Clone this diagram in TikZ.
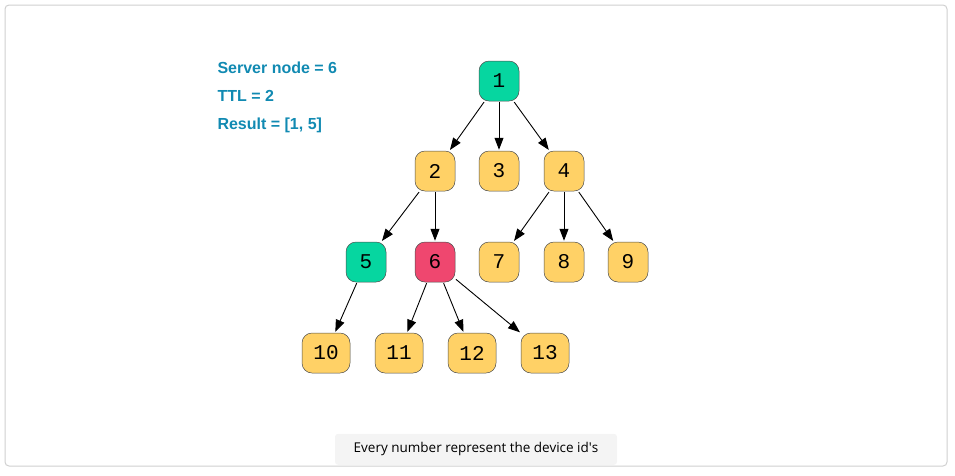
\documentclass[tikz,border=0pt]{standalone}
\usepackage{fontspec}
\setmainfont{Open Sans}
\newfontfamily\monofont{Liberation Mono}
\newfontfamily\labelfont{Liberation Sans}
\usetikzlibrary{arrows.meta}
\definecolor{nodeyellow}{HTML}{FFD166}
\definecolor{nodegreen}{HTML}{06D6A0}
\definecolor{nodered}{HTML}{EF476F}
\definecolor{infoblue}{HTML}{118AB2}
\definecolor{capgray}{HTML}{F4F4F4}
\definecolor{framegray}{HTML}{D0D0D0}
\tikzset{
    device/.style={draw=black!70,line width=0.5pt,rounded corners=10pt,fill=nodeyellow,
        minimum width=40pt,minimum height=40pt,inner sep=0pt,font=\monofont\fontsize{21}{23}\selectfont},
    devicewide/.style={device,minimum width=48pt},
    server/.style={device,fill=nodegreen},
    origin/.style={device,fill=nodered},
    link/.style={-{Triangle[length=12pt,width=9pt]},line width=0.9pt,shorten >=1pt,shorten <=1pt},
    infolabel/.style={anchor=west,text=infoblue,font=\labelfont\bfseries\fontsize{16}{18}\selectfont},
    caption/.style={fill=capgray,rounded corners=3pt,minimum width=282pt,minimum height=31pt,
        font=\fontsize{13.5}{15}\selectfont}
}
\begin{document}
\begin{tikzpicture}[x=1pt,y=-1pt]
    \useasboundingbox (0,0) rectangle (955,475);

    % outer frame
    \draw[framegray,line width=1pt,rounded corners=4pt] (5,5) rectangle (947,466);

    % info text
    \node[infolabel] (server) at (214,68) {Server node = 6};
    \node[infolabel] (ttl) at (214,96) {TTL = 2};
    \node[infolabel] (result) at (214,125) {Result = [1, 5]};

    % device tree
    \node[server] (d1) at (499,81) {1};
    \foreach \i/\x in {2/435,3/499,4/564} {
        \node[device] (d\i) at (\x,171) {\i};
    }
    \node[server] (d5) at (366,262) {5};
    \node[origin] (d6) at (435,262) {6};
    \foreach \i/\x in {7/499,8/564,9/628} {
        \node[device] (d\i) at (\x,262) {\i};
    }
    \foreach \i/\x in {10/326,11/399,12/472,13/545} {
        \node[devicewide] (d\i) at (\x,353) {\i};
    }

    % connections
    \foreach \a/\b in {1/2,1/3,1/4,2/5,2/6,4/7,4/8,4/9,5/10,6/11,6/12,6/13} {
        \draw[link] (d\a) -- (d\b);
    }

    % caption
    \node[caption,anchor=south] (note) at (476,465) {Every number represent the device id\textquotesingle s};
\end{tikzpicture}
\end{document}
